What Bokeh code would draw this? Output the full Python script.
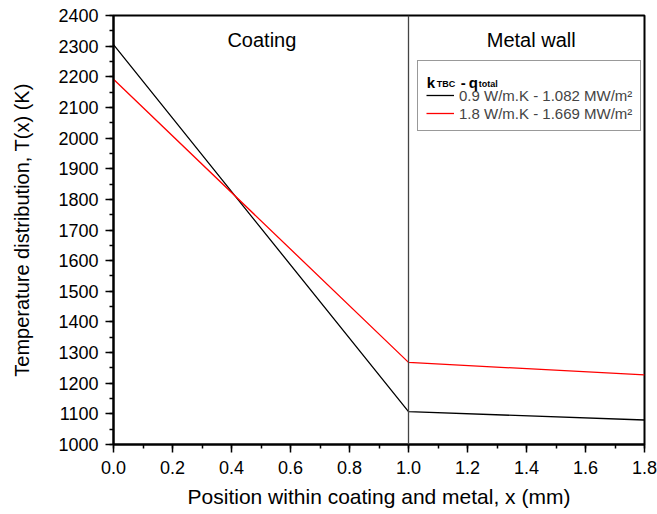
from bokeh.plotting import figure
from bokeh.models import (Legend, LegendItem, Label, Span, Range1d,
                          SingleIntervalTicker, PrintfTickFormatter)
from bokeh.embed import file_html
from bokeh.resources import INLINE

# ---- data ----
x_pos = [0.0, 1.0, 1.8]                 # mm
T_k09 = [2305, 1107, 1080]              # K, k=0.9
T_k18 = [2192, 1268, 1227]              # K, k=1.8
series_labels = ["0.9 W/m.K - 1.082 MW/m²", "1.8 W/m.K - 1.669 MW/m²"]
series_colors = ["#000000", "#ff0000"]
interface_x = 1.0
region_labels = ["Coating", "Metal wall"]
region_label_x = [0.503, 1.416]
region_label_y = 2320
x_title = "Position within coating and metal, x (mm)"
y_title = "Temperature distribution, T(x) (K)"

FONT = "Liberation Sans"

p = figure(width=657, height=514, output_backend="svg", toolbar_location=None,
           x_range=Range1d(0, 1.8), y_range=Range1d(1000, 2400),
           min_border_left=113, min_border_right=13, min_border_top=15,
           min_border_bottom=70, background_fill_color="white",
           border_fill_color="white")
p.xgrid.visible = False
p.ygrid.visible = False
p.outline_line_color = "black"
p.outline_line_width = 2
p.outline_line_alpha = 1

p.xaxis.ticker = SingleIntervalTicker(interval=0.2, num_minor_ticks=2)
p.yaxis.ticker = SingleIntervalTicker(interval=100, num_minor_ticks=2)
p.xaxis.formatter = PrintfTickFormatter(format="%.1f")

for ax in (p.xaxis[0], p.yaxis[0]):
    ax.axis_line_width = 2
    ax.axis_line_color = "black"
    ax.major_tick_in = 0
    ax.major_tick_out = 8
    ax.minor_tick_in = 0
    ax.minor_tick_out = 4
    ax.major_tick_line_width = 1.5
    ax.minor_tick_line_width = 1.5
    ax.major_tick_line_color = "black"
    ax.minor_tick_line_color = "black"
    ax.major_label_text_font = FONT
    ax.major_label_text_font_size = "18px"
    ax.major_label_text_color = "black"
    ax.axis_label_text_font = FONT
    ax.axis_label_text_font_style = "normal"
    ax.axis_label_text_color = "black"
p.xaxis.axis_label_text_font_size = "21px"
p.yaxis.axis_label_text_font_size = "20px"
p.xaxis.axis_label = x_title
p.yaxis.axis_label = y_title
p.xaxis.major_label_standoff = 8
p.yaxis.major_label_standoff = 7
p.xaxis.axis_label_standoff = 8
p.yaxis.axis_label_standoff = 22

p.add_layout(Span(location=interface_x, dimension="height",
                  line_color="#444444", line_width=1.3))

renderers = []
for ys, c in zip([T_k09, T_k18], series_colors):
    renderers.append(p.line(x_pos, ys, line_color=c, line_width=1.3))

for t, xx in zip(region_labels, region_label_x):
    p.add_layout(Label(x=xx, y=region_label_y, text=t, text_align="center",
                       text_baseline="middle", text_font=FONT,
                       text_font_size="20px", text_color="black"))

legend = Legend(items=[LegendItem(label=l, renderers=[r])
                       for l, r in zip(series_labels, renderers)],
                location=(304, 313), title=" ", title_text_font_size="13px",
                title_standoff=2, label_text_font=FONT,
                label_text_font_size="15px", glyph_width=28, glyph_height=18,
                label_height=18, spacing=0, padding=8, margin=0,
                label_standoff=5, border_line_color="#333333",
                border_line_width=1, background_fill_alpha=0)
p.add_layout(legend)

# legend title with subscripts
tx, ty = 1.062, 2180
pieces = [("k", 0, "15px", 0), ("TBC", 10, "9px", -1), ("-", 34, "15px", 0),
          ("q", 42, "15px", 0), ("total", 52, "9px", -1)]
for t, xo, fs, yo in pieces:
    p.add_layout(Label(x=tx, y=ty, x_offset=xo, y_offset=yo, text=t,
                       text_font=FONT, text_font_size=fs,
                       text_font_style="bold", text_baseline="alphabetic",
                       text_color="black"))

open("out.html", "w").write(file_html(p, INLINE))
